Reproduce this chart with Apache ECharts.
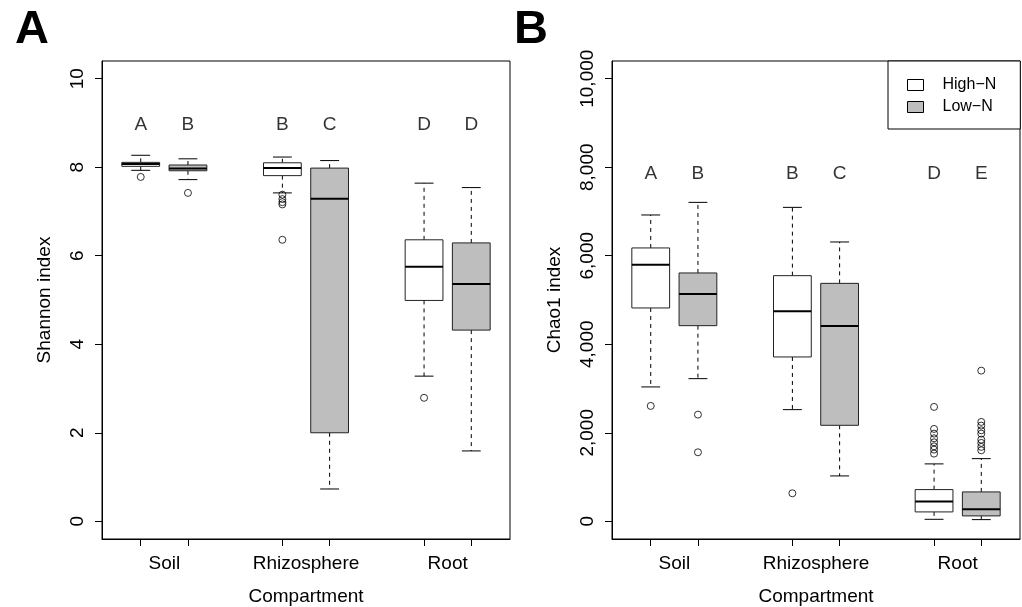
<!DOCTYPE html>
<html>
<head>
<meta charset="utf-8">
<script src="https://cdn.jsdelivr.net/npm/echarts@6/dist/echarts.min.js"></script>
<style>
  html, body { margin: 0; padding: 0; background: #fff; }
  #main { width: 1022px; height: 607px; }
</style>
</head>
<body>
<div id="main"></div>
<script>
// categories
const compartments = ['Soil', 'Rhizosphere', 'Root']

// box stats per compartment: [lower whisker, Q1, median, Q3, upper whisker]
const shannonHighN = [[7.93, 8.02, 8.07, 8.11, 8.27], [7.42, 7.81, 7.98, 8.10, 8.23], [3.28, 4.99, 5.75, 6.36, 7.64]]
const shannonLowN = [[7.72, 7.92, 7.97, 8.05, 8.19], [0.73, 2.00, 7.29, 7.98, 8.15], [1.59, 4.32, 5.36, 6.29, 7.54]]
const shannonOutHighN = [[7.78], [7.38, 7.28, 7.21, 7.16, 6.36], [2.79]]
const shannonOutLowN = [[7.42], [], []]
const shannonLettersHighN = ['A', 'B', 'D']
const shannonLettersLowN = ['B', 'C', 'D']
const shannonLetterY = 9

const chaoHighN = [[3036, 4820, 5799, 6176, 6921], [2523, 3713, 4744, 5550, 7093], [45, 212, 445, 716, 1297]]
const chaoLowN = [[3223, 4420, 5137, 5611, 7206], [1025, 2169, 4413, 5376, 6311], [38, 122, 271, 664, 1416]]
const chaoOutHighN = [[2607], [633], [2584, 2087, 1981, 1875, 1785, 1694, 1620, 1529]]
const chaoOutLowN = [[2410, 1559], [], [3404, 2245, 2162, 2056, 1981, 1845, 1771, 1681, 1604]]
const chaoLettersHighN = ['A', 'B', 'D']
const chaoLettersLowN = ['B', 'C', 'E']
const chaoLetterY = 7900

// tick values
const shannonTicks = [0, 2, 4, 6, 8, 10]
const chaoTicks = [0, 2000, 4000, 6000, 8000, 10000]

const HIGH = 'High\u2212N'
const LOW = 'Low\u2212N'
const FONT = 'Liberation Sans, Arial, Helvetica, sans-serif'

const myChart = echarts.init(document.getElementById('main'))

// x position of a box: groups at 1-2, 4-5, 7-8
const xPos = (i, low) => i * 3 + (low ? 2 : 1)

function boxData (stats, low) {
  return stats.map((s, i) => [xPos(i, low)].concat(s))
}

function outlierData (outs, low) {
  const res = []
  outs.forEach((list, i) => list.forEach(v => res.push([xPos(i, low), v])))
  return res
}

function letterData (letters, y, low) {
  return letters.map((l, i) => [xPos(i, low), y, l])
}

function renderBox (params, api) {
  const x = api.value(0)
  const lo = api.value(1)
  const q1 = api.value(2)
  const med = api.value(3)
  const q3 = api.value(4)
  const hi = api.value(5)
  const half = 0.4
  const cap = 0.2
  const tl = api.coord([x - half, q3])
  const br = api.coord([x + half, q1])
  const c = api.coord([x, 0])[0]
  const yLo = api.coord([x, lo])[1]
  const yHi = api.coord([x, hi])[1]
  const yMed = api.coord([x, med])[1]
  const capL = api.coord([x - cap, 0])[0]
  const capR = api.coord([x + cap, 0])[0]
  const dash = { stroke: '#000', lineWidth: 1, lineDash: [4, 4] }
  const solid = { stroke: '#000', lineWidth: 1 }
  return {
    type: 'group',
    children: [
      { type: 'line', shape: { x1: c, y1: tl[1], x2: c, y2: yHi }, style: dash },
      { type: 'line', shape: { x1: c, y1: br[1], x2: c, y2: yLo }, style: dash },
      { type: 'line', shape: { x1: capL, y1: yHi, x2: capR, y2: yHi }, style: solid },
      { type: 'line', shape: { x1: capL, y1: yLo, x2: capR, y2: yLo }, style: solid },
      {
        type: 'rect',
        shape: { x: tl[0], y: tl[1], width: br[0] - tl[0], height: br[1] - tl[1] },
        style: { fill: api.visual('color'), stroke: '#222', lineWidth: 1 }
      },
      { type: 'line', shape: { x1: tl[0], y1: yMed, x2: br[0], y2: yMed }, style: { stroke: '#000', lineWidth: 2 } }
    ]
  }
}

function boxSeries (name, stats, low, idx) {
  return {
    name: name,
    type: 'custom',
    xAxisIndex: idx,
    yAxisIndex: idx,
    renderItem: renderBox,
    itemStyle: { color: low ? '#bebebe' : '#ffffff' },
    encode: { x: 0, y: [1, 2, 3, 4, 5] },
    data: boxData(stats, low),
    z: 2
  }
}

function outlierSeries (outs, low, idx) {
  return {
    type: 'scatter',
    xAxisIndex: idx,
    yAxisIndex: idx,
    symbol: 'circle',
    symbolSize: 7,
    itemStyle: { color: 'rgba(0,0,0,0)', borderColor: '#000', borderWidth: 1 },
    data: outlierData(outs, low),
    z: 3
  }
}

function letterSeries (letters, y, low, idx) {
  return {
    type: 'scatter',
    xAxisIndex: idx,
    yAxisIndex: idx,
    symbol: 'circle',
    symbolSize: 1,
    itemStyle: { color: 'rgba(0,0,0,0)' },
    label: {
      show: true,
      position: 'inside',
      offset: [0, 2],
      formatter: p => p.value[2],
      color: '#000',
      fontSize: 19,
      fontFamily: FONT
    },
    data: letterData(letters, y, low),
    z: 3
  }
}

function xAxis (idx) {
  return {
    type: 'value',
    gridIndex: idx,
    min: 0.18,
    max: 8.82,
    name: 'Compartment',
    nameLocation: 'middle',
    nameGap: 48,
    nameTextStyle: { color: '#000', fontSize: 19, fontFamily: FONT },
    axisLine: { show: true, onZero: false, lineStyle: { color: '#000' } },
    axisTick: { show: true, inside: false, length: 7, customValues: [1, 2, 4, 5, 7, 8], lineStyle: { color: '#000' } },
    axisLabel: {
      show: true,
      customValues: [1.5, 4.5, 7.5],
      formatter: v => compartments[Math.round((v - 1.5) / 3)],
      margin: 15,
      color: '#000',
      fontSize: 19,
      fontFamily: FONT
    },
    splitLine: { show: false }
  }
}

function yAxis (idx, name, min, max, ticks, fmt) {
  return {
    type: 'value',
    gridIndex: idx,
    min: min,
    max: max,
    name: name,
    nameLocation: 'middle',
    nameRotate: 90,
    nameGap: 48,
    nameTextStyle: { color: '#000', fontSize: 19, fontFamily: FONT },
    axisLine: { show: true, onZero: false, lineStyle: { color: '#000' } },
    axisTick: { show: true, inside: false, length: 7, customValues: ticks, lineStyle: { color: '#000' } },
    axisLabel: {
      show: true,
      customValues: ticks,
      rotate: 90,
      margin: 15,
      formatter: fmt,
      color: '#000',
      fontSize: 19,
      fontFamily: FONT
    },
    splitLine: { show: false }
  }
}

const option = {
  animation: false,
  backgroundColor: '#fff',
  title: [
    { text: 'A', left: 15, top: 7, padding: 0, textStyle: { fontSize: 47, fontWeight: 'bold', fontFamily: FONT, color: '#000' } },
    { text: 'B', left: 514, top: 7, padding: 0, textStyle: { fontSize: 47, fontWeight: 'bold', fontFamily: FONT, color: '#000' } }
  ],
  legend: {
    left: 888,
    top: 61,
    orient: 'vertical',
    selectedMode: false,
    backgroundColor: '#fff',
    borderColor: '#000',
    borderWidth: 1,
    borderRadius: 0,
    padding: [16, 24, 14, 19],
    itemWidth: 16,
    itemHeight: 11,
    itemGap: 6,
    textStyle: { color: '#000', fontSize: 16, fontFamily: FONT, padding: [0, 0, 0, 14] },
    data: [
      { name: HIGH, icon: 'rect', itemStyle: { color: '#ffffff', borderColor: '#000', borderWidth: 1 } },
      { name: LOW, icon: 'rect', itemStyle: { color: '#bebebe', borderColor: '#000', borderWidth: 1 } }
    ],
    z: 10
  },
  grid: [
    { left: 102, right: 512, top: 61, bottom: 68, outerBoundsMode: 'none', show: true, borderColor: '#000', borderWidth: 1, backgroundColor: 'transparent' },
    { left: 612, right: 2, top: 61, bottom: 68, outerBoundsMode: 'none', show: true, borderColor: '#000', borderWidth: 1, backgroundColor: 'transparent' }
  ],
  xAxis: [xAxis(0), xAxis(1)],
  yAxis: [
    yAxis(0, 'Shannon index', -0.4, 10.4, shannonTicks, v => String(v)),
    yAxis(1, 'Chao1 index', -400, 10400, chaoTicks, v => v.toLocaleString('en-US'))
  ],
  series: [
    boxSeries(HIGH, shannonHighN, false, 0),
    boxSeries(LOW, shannonLowN, true, 0),
    outlierSeries(shannonOutHighN, false, 0),
    outlierSeries(shannonOutLowN, true, 0),
    letterSeries(shannonLettersHighN, shannonLetterY, false, 0),
    letterSeries(shannonLettersLowN, shannonLetterY, true, 0),
    boxSeries(HIGH, chaoHighN, false, 1),
    boxSeries(LOW, chaoLowN, true, 1),
    outlierSeries(chaoOutHighN, false, 1),
    outlierSeries(chaoOutLowN, true, 1),
    letterSeries(chaoLettersHighN, chaoLetterY, false, 1),
    letterSeries(chaoLettersLowN, chaoLetterY, true, 1)
  ]
}

myChart.setOption(option)

window.addEventListener('resize', () => {
  myChart.resize()
})
</script>
</body>
</html>
